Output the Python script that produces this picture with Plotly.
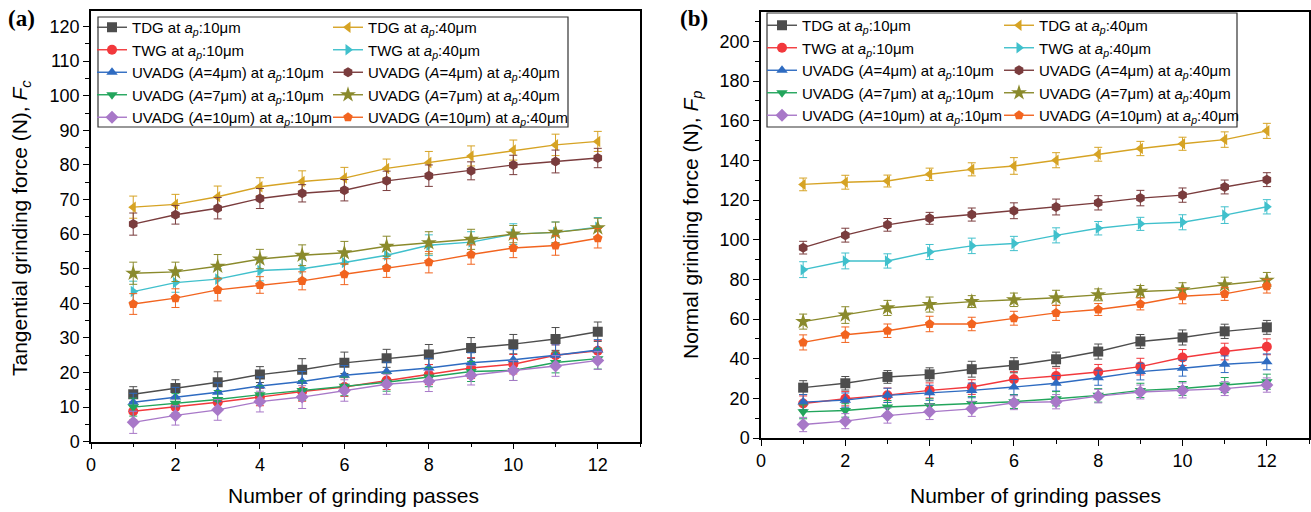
import plotly.graph_objects as go

passes = list(range(1, 13))

# ---------------- Panel (a): tangential grinding force Fc ----------------
fc_tdg10 = [13.7, 15.5, 17.2, 19.4, 20.8, 22.8, 24.1, 25.2, 27.1, 28.2, 29.7, 31.8]
fc_twg10 = [8.8, 10.0, 11.4, 12.9, 14.5, 15.8, 17.7, 19.4, 21.3, 22.4, 25.0, 26.3]
fc_a4_10 = [11.4, 12.9, 14.3, 16.1, 17.4, 19.2, 20.3, 21.3, 22.8, 23.7, 25.0, 26.5]
fc_a7_10 = [10.0, 11.1, 12.2, 13.6, 14.8, 16.0, 17.2, 18.7, 20.3, 20.6, 22.9, 24.0]
fc_a10_10 = [5.6, 7.6, 9.2, 11.6, 12.9, 14.8, 16.6, 17.5, 19.2, 20.6, 21.9, 23.5]
fc_tdg40 = [67.8, 68.6, 70.8, 73.7, 75.2, 76.2, 79.0, 80.7, 82.6, 84.3, 85.8, 86.8]
fc_twg40 = [43.4, 46.0, 47.0, 49.5, 50.0, 51.8, 53.9, 56.8, 57.7, 60.0, 60.5, 62.0]
fc_a4_40 = [62.9, 65.6, 67.5, 70.3, 71.8, 72.7, 75.4, 76.9, 78.3, 80.0, 81.0, 82.0]
fc_a7_40 = [48.7, 49.1, 50.7, 52.8, 53.9, 54.6, 56.5, 57.5, 58.5, 60.0, 60.5, 61.8]
fc_a10_40 = [39.8, 41.5, 43.9, 45.3, 46.5, 48.4, 50.2, 51.9, 54.1, 56.0, 56.7, 58.8]

fc_tdg10_err = [2.2, 2.4, 3.0, 2.3, 3.2, 3.1, 2.6, 2.9, 3.0, 2.8, 3.3, 2.8]
fc_twg10_err = [2.5, 2.4, 2.6, 2.5, 2.8, 2.7, 2.6, 2.9, 3.0, 2.8, 3.0, 3.0]
fc_a4_10_err = [2.6, 2.8, 2.7, 2.6, 2.9, 2.8, 2.7, 2.8, 2.9, 2.9, 3.0, 3.0]
fc_a7_10_err = [2.6, 2.8, 2.6, 2.6, 2.8, 2.7, 2.6, 2.8, 2.9, 2.9, 3.0, 3.0]
fc_a10_10_err = [3.2, 2.8, 3.0, 3.0, 3.3, 3.1, 2.9, 3.0, 2.8, 2.9, 3.0, 2.6]
fc_tdg40_err = [3.2, 2.9, 3.1, 2.6, 3.1, 3.1, 2.7, 3.2, 2.9, 2.9, 3.1, 2.9]
fc_twg40_err = [3.0, 2.8, 3.0, 3.0, 2.8, 3.0, 3.0, 3.0, 3.0, 3.0, 3.0, 2.8]
fc_a4_40_err = [3.2, 2.7, 3.1, 2.9, 2.5, 3.1, 2.8, 3.1, 2.6, 2.8, 3.3, 2.8]
fc_a7_40_err = [3.2, 2.8, 3.4, 2.8, 3.0, 3.3, 2.9, 3.2, 2.9, 2.5, 3.0, 2.8]
fc_a10_40_err = [3.0, 2.7, 3.2, 2.4, 2.6, 3.0, 2.7, 3.1, 2.8, 2.8, 2.8, 2.8]

# ---------------- Panel (b): normal grinding force Fp ----------------
fp_tdg10 = [25.4, 27.6, 30.8, 32.1, 34.7, 36.7, 39.7, 43.6, 48.7, 50.7, 53.8, 55.8]
fp_twg10 = [17.4, 19.8, 21.6, 24.0, 25.7, 29.6, 31.3, 33.3, 36.0, 40.6, 43.6, 46.0]
fp_a4_10 = [18.1, 19.1, 21.5, 22.8, 24.0, 25.7, 27.6, 30.4, 33.5, 35.2, 37.2, 38.4]
fp_a7_10 = [13.2, 13.9, 15.6, 16.4, 17.4, 18.3, 19.8, 21.5, 24.0, 25.0, 26.7, 28.4]
fp_a10_10 = [6.8, 8.5, 11.3, 13.2, 14.7, 17.8, 18.3, 21.1, 23.2, 24.0, 24.9, 26.7]
fp_tdg40 = [127.9, 129.0, 129.6, 133.0, 135.5, 137.2, 140.1, 143.1, 146.0, 148.4, 150.5, 154.9]
fp_twg40 = [84.9, 89.3, 89.3, 93.8, 96.9, 98.1, 102.2, 105.8, 108.0, 108.8, 112.4, 116.6]
fp_a4_40 = [96.0, 102.3, 107.5, 110.8, 112.7, 114.6, 116.5, 118.6, 121.0, 122.5, 126.6, 130.3]
fp_a7_40 = [58.7, 62.0, 65.6, 67.3, 68.8, 69.7, 70.7, 72.2, 73.9, 74.7, 77.3, 79.5]
fp_a10_40 = [48.2, 52.1, 54.1, 57.5, 57.5, 60.4, 63.1, 64.8, 67.6, 71.5, 72.7, 76.6]

fp_tdg10_err = [3.5, 3.4, 3.2, 3.3, 4.0, 3.8, 3.6, 3.8, 3.5, 3.8, 3.6, 3.5]
fp_twg10_err = [3.8, 3.6, 3.6, 3.8, 3.7, 3.9, 3.9, 3.8, 4.2, 4.0, 4.2, 4.0]
fp_a4_10_err = [3.8, 3.6, 3.6, 3.8, 3.7, 3.8, 3.9, 3.8, 4.2, 4.0, 4.2, 4.0]
fp_a7_10_err = [3.5, 3.4, 3.3, 3.4, 3.5, 3.4, 3.6, 3.4, 3.6, 3.5, 3.8, 3.8]
fp_a10_10_err = [3.6, 3.8, 3.8, 3.9, 3.8, 3.5, 3.6, 3.4, 3.5, 3.8, 3.5, 3.6]
fp_tdg40_err = [3.2, 3.5, 3.0, 3.1, 3.3, 4.2, 3.8, 3.5, 3.6, 3.3, 3.9, 3.8]
fp_twg40_err = [4.0, 4.0, 3.6, 3.8, 3.9, 3.6, 3.8, 3.4, 3.3, 3.8, 4.2, 3.6]
fp_a4_40_err = [3.2, 3.5, 3.2, 3.0, 3.3, 4.0, 4.0, 3.6, 3.9, 3.6, 3.5, 3.5]
fp_a7_40_err = [3.8, 4.2, 3.8, 3.8, 3.0, 3.4, 3.8, 3.0, 3.0, 3.6, 3.8, 4.0]
fp_a10_40_err = [3.8, 3.9, 3.4, 3.9, 3.4, 3.5, 3.8, 3.0, 3.0, 3.8, 3.3, 3.5]

# ---------------- Series labels ----------------
AP10 = " at <i>a</i><sub><i>p</i></sub>:10μm"
AP40 = " at <i>a</i><sub><i>p</i></sub>:40μm"
names10 = ["TDG" + AP10, "TWG" + AP10,
           "UVADG (<i>A</i>=4μm)" + AP10, "UVADG (<i>A</i>=7μm)" + AP10,
           "UVADG (<i>A</i>=10μm)" + AP10]
names40 = ["TDG" + AP40, "TWG" + AP40,
           "UVADG (<i>A</i>=4μm)" + AP40, "UVADG (<i>A</i>=7μm)" + AP40,
           "UVADG (<i>A</i>=10μm)" + AP40]

x_title = "Number of grinding passes"
ya_title = "Tangential grinding force (N), <i>F</i><sub><i>c</i></sub>"
yb_title = "Normal grinding force (N), <i>F</i><sub><i>p</i></sub>"

colors10 = ["#4D4D4D", "#F2383C", "#2E6BC1", "#22A55C", "#A878C8"]
colors40 = ["#D6A324", "#40C0CC", "#7A3C3D", "#8A8A2C", "#F2641F"]
symbols10 = ["square", "circle", "triangle-up", "triangle-down", "diamond"]
symbols40 = ["triangle-left", "triangle-right", "hexagon", "star", "pentagon"]

fc10 = [fc_tdg10, fc_twg10, fc_a4_10, fc_a7_10, fc_a10_10]
fc10e = [fc_tdg10_err, fc_twg10_err, fc_a4_10_err, fc_a7_10_err, fc_a10_10_err]
fc40 = [fc_tdg40, fc_twg40, fc_a4_40, fc_a7_40, fc_a10_40]
fc40e = [fc_tdg40_err, fc_twg40_err, fc_a4_40_err, fc_a7_40_err, fc_a10_40_err]
fp10 = [fp_tdg10, fp_twg10, fp_a4_10, fp_a7_10, fp_a10_10]
fp10e = [fp_tdg10_err, fp_twg10_err, fp_a4_10_err, fp_a7_10_err, fp_a10_10_err]
fp40 = [fp_tdg40, fp_twg40, fp_a4_40, fp_a7_40, fp_a10_40]
fp40e = [fp_tdg40_err, fp_twg40_err, fp_a4_40_err, fp_a7_40_err, fp_a10_40_err]

W, H = 1311, 512
def px(x):
    return x / W
def py(y):
    return 1 - y / H

fig = go.Figure()

def add(vals, errs, name, color, symbol, xa, ya, legend):
    fig.add_trace(go.Scatter(
        x=passes, y=vals, name=name, mode="lines+markers",
        xaxis=xa, yaxis=ya, legend=legend,
        line=dict(color=color, width=1.4),
        marker=dict(color=color, symbol=symbol, size=10 if symbol != "star" else 12,
                    line=dict(width=0)),
        error_y=dict(type="data", array=errs, visible=True, color=color,
                     thickness=1, width=4),
    ))

for i in range(5):
    add(fc10[i], fc10e[i], names10[i], colors10[i], symbols10[i], "x", "y", "legend")
for i in range(5):
    add(fc40[i], fc40e[i], names40[i], colors40[i], symbols40[i], "x", "y", "legend2")
for i in range(5):
    add(fp10[i], fp10e[i], names10[i], colors10[i], symbols10[i], "x2", "y2", "legend3")
for i in range(5):
    add(fp40[i], fp40e[i], names40[i], colors40[i], symbols40[i], "x2", "y2", "legend4")

FONT = "Liberation Sans, Arial, sans-serif"
axis_common = dict(
    showline=True, linecolor="black", linewidth=1.5, mirror=True, automargin=False,
    showgrid=False, zeroline=False, ticks="outside", ticklen=6, tickwidth=1.2,
    tickcolor="black", tickfont=dict(family=FONT, size=18, color="black"),
)
xcommon = dict(axis_common, range=[0, 13], tick0=0, dtick=2,
               minor=dict(ticks="outside", ticklen=4, dtick=1, tickcolor="black", tickwidth=1.2))

legend_common = dict(font=dict(family=FONT, size=15, color="black"),
                     bgcolor="rgba(0,0,0,0)", borderwidth=0, xanchor="left",
                     yanchor="top", orientation="v", itemwidth=30, traceorder="normal")

fig.update_layout(
    width=W, height=H, margin=dict(l=0, r=0, t=0, b=0),
    paper_bgcolor="white", plot_bgcolor="white",
    font=dict(family=FONT, color="black"),
    xaxis=dict(xcommon, domain=[px(91), px(640)], anchor="y"),
    yaxis=dict(axis_common, domain=[py(441.7), py(11)], range=[0, 124.5], dtick=10, anchor="x",
               minor=dict(ticks="outside", ticklen=4, dtick=5, tickcolor="black", tickwidth=1.2)),
    xaxis2=dict(xcommon, domain=[px(761), px(1309)], anchor="y2"),
    yaxis2=dict(axis_common, domain=[py(438), py(11.7)], range=[0, 215], dtick=20, anchor="x2",
                minor=dict(ticks="outside", ticklen=4, dtick=10, tickcolor="black", tickwidth=1.2)),
    legend=dict(legend_common, x=px(92), y=py(11)),
    legend2=dict(legend_common, x=px(328), y=py(11)),
    legend3=dict(legend_common, x=px(762), y=py(9)),
    legend4=dict(legend_common, x=px(999), y=py(9)),
    showlegend=True,
)

fig.add_shape(type="rect", xref="paper", yref="paper",
              x0=px(98), x1=px(568), y0=py(127), y1=py(17),
              line=dict(color="#333333", width=1.2), fillcolor="rgba(0,0,0,0)", layer="above")
fig.add_shape(type="rect", xref="paper", yref="paper",
              x0=px(767), x1=px(1237), y0=py(127), y1=py(13),
              line=dict(color="#333333", width=1.2), fillcolor="rgba(0,0,0,0)", layer="above")

title_font = dict(family=FONT, size=21, color="black")
fig.add_annotation(text=x_title, xref="paper", yref="paper", x=px(353), y=py(495),
                   xanchor="center", yanchor="middle", showarrow=False, font=title_font)
fig.add_annotation(text=x_title, xref="paper", yref="paper", x=px(1035), y=py(495),
                   xanchor="center", yanchor="middle", showarrow=False, font=title_font)
fig.add_annotation(text=ya_title, xref="paper", yref="paper", x=px(21), y=py(228),
                   xanchor="center", yanchor="middle", showarrow=False, textangle=-90,
                   font=title_font)
fig.add_annotation(text=yb_title, xref="paper", yref="paper", x=px(692), y=py(225),
                   xanchor="center", yanchor="middle", showarrow=False, textangle=-90,
                   font=title_font)

fig.add_annotation(text="<b>(a)</b>", xref="paper", yref="paper", x=px(6), y=py(18),
                   xanchor="left", yanchor="middle", showarrow=False,
                   font=dict(family="Liberation Serif, Times New Roman, serif", size=23, color="black"))
fig.add_annotation(text="<b>(b)</b>", xref="paper", yref="paper", x=px(678), y=py(18),
                   xanchor="left", yanchor="middle", showarrow=False,
                   font=dict(family="Liberation Serif, Times New Roman, serif", size=23, color="black"))

fig.write_html("out.html")
